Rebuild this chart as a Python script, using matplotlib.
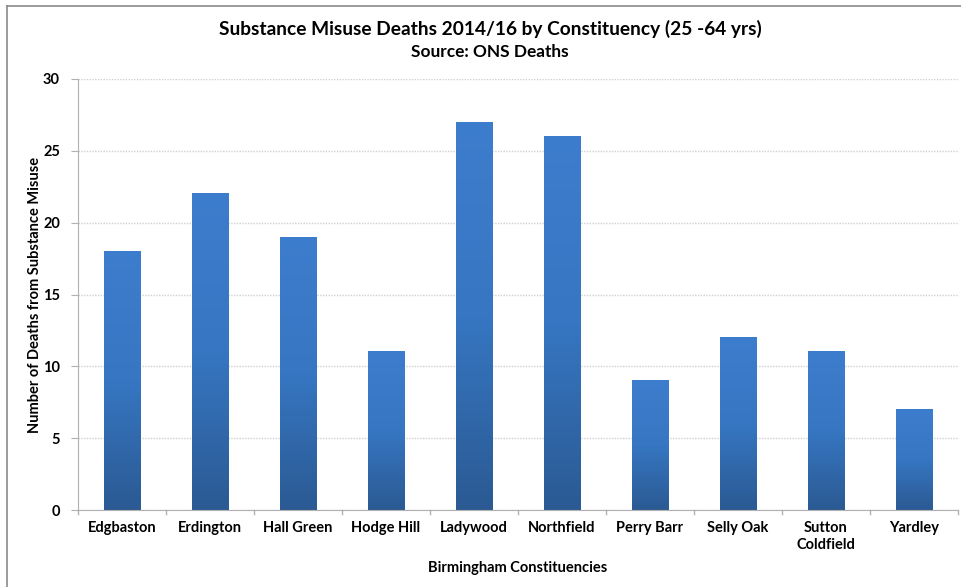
import matplotlib
matplotlib.use("Agg")
import matplotlib.pyplot as plt
import numpy as np
from matplotlib.colors import LinearSegmentedColormap
from matplotlib.lines import Line2D

categories = ["Edgbaston", "Erdington", "Hall Green", "Hodge Hill", "Ladywood",
              "Northfield", "Perry Barr", "Selly Oak", "Sutton\nColdfield", "Yardley"]
deaths = [18, 22, 19, 11, 27, 26, 9, 12, 11, 7]
yticks = [0, 5, 10, 15, 20, 25, 30]

title = "Substance Misuse Deaths 2014/16 by Constituency (25 -64 yrs)"
subtitle = "Source: ONS Deaths"
xlabel = "Birmingham Constituencies"
ylabel = "Number of Deaths from Substance Misuse"

plt.rcParams['font.family'] = ['Lato', 'DejaVu Sans']

W, H = 962, 587
fig = plt.figure(figsize=(W / 100, H / 100), dpi=100)
ax = fig.add_axes([78 / W, (H - 510) / H, (958 - 78) / W, (510 - 79) / H])

x = np.arange(len(categories))
bars = ax.bar(x, deaths, width=0.42, color="#3570B5", edgecolor="#c9d9ef",
              linewidth=0.6, zorder=2)

cmap = LinearSegmentedColormap.from_list("g", ["#2B5A93", "#3676C2", "#3D7DCD"])
grad = np.linspace(0, 1, 256).reshape(-1, 1)
for b in bars:
    x0, w, h = b.get_x(), b.get_width(), b.get_height()
    ax.imshow(grad, extent=(x0, x0 + w, 0, h), origin="lower", cmap=cmap,
              aspect="auto", zorder=2.5, interpolation="bilinear")

ax.set_xlim(-0.5, len(categories) - 0.5)
ax.set_ylim(0, 30)
ax.set_yticks(yticks)
ax.set_yticklabels([str(t) for t in yticks], fontsize=10.5, fontweight="bold")
ax.set_xticks(x)
ax.set_xticklabels(categories, fontsize=10.5, fontweight="bold", linespacing=1.3)
ax.tick_params(axis="x", length=0, pad=8)
ax.tick_params(axis="y", length=5, color="#b0b0b0", pad=8)
for t in np.arange(0.5, len(categories), 1.0):
    ax.plot([t, t], [0, -0.25], color="#b0b0b0", lw=1, clip_on=False, zorder=1)
ax.plot([-0.5, -0.5], [0, -0.25], color="#b0b0b0", lw=1, clip_on=False, zorder=1)

ax.yaxis.grid(True, color="#d0d0d0", linestyle=(0, (1, 1)), linewidth=1, zorder=0)
ax.set_axisbelow(True)
for s in ["top", "right"]:
    ax.spines[s].set_visible(False)
ax.spines["left"].set_color("#b0b0b0")
ax.spines["bottom"].set_color("#b0b0b0")

ax.set_xlabel(xlabel, fontsize=10.5, fontweight="bold")
ax.xaxis.set_label_coords(0.5, (510 - 568) / (510 - 79), transform=ax.transAxes)
ax.xaxis.label.set_va("center")
ax.set_ylabel(ylabel, fontsize=10.5, fontweight="bold")
ax.yaxis.set_label_coords((35 - 78) / (958 - 78), 0.5, transform=ax.transAxes)
ax.yaxis.label.set_va("center")

fig.text(490 / W, 1 - 29 / H, title, ha="center", va="center", fontsize=13.8,
         fontweight="bold")
fig.text(490 / W, 1 - 52 / H, subtitle, ha="center", va="center", fontsize=12.4,
         fontweight="bold")

# outer frame (top and left edges visible)
fig.add_artist(Line2D([7 / W, 1], [1 - 6 / H, 1 - 6 / H], color="#8a8a8a", lw=1.2,
                      transform=fig.transFigure))
fig.add_artist(Line2D([7 / W, 7 / W], [0, 1 - 6 / H], color="#8a8a8a", lw=1.2,
                      transform=fig.transFigure))

fig.savefig("out.png", dpi=100)
